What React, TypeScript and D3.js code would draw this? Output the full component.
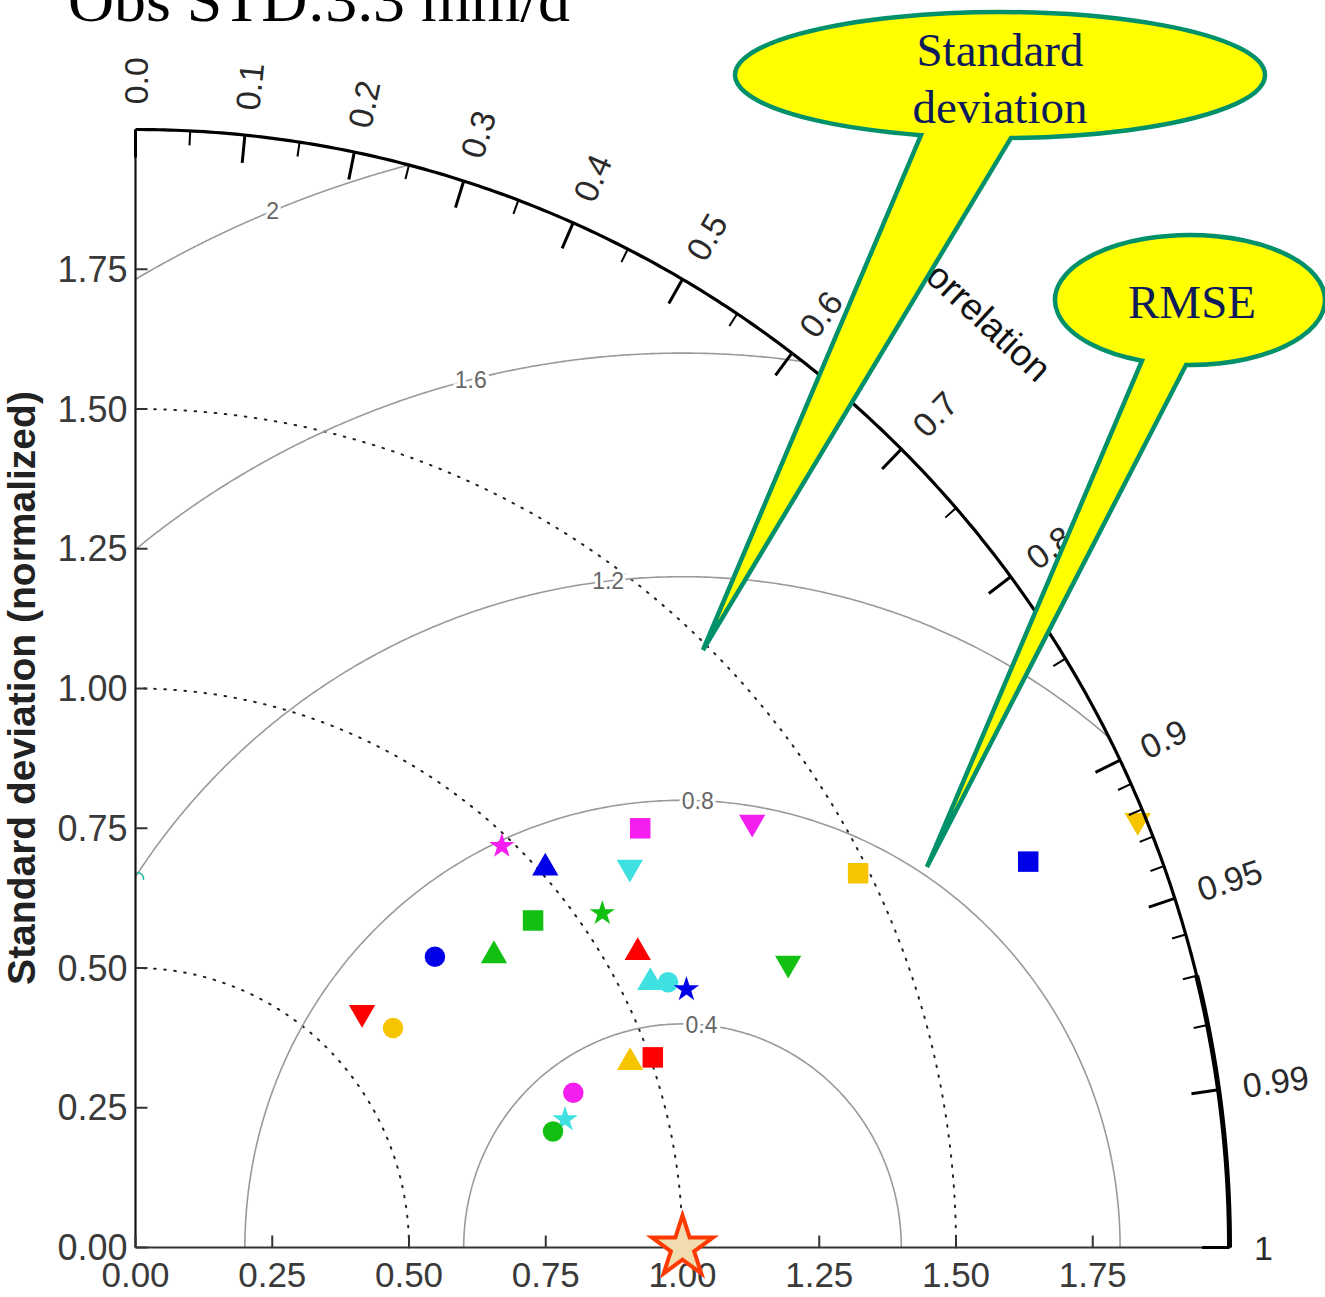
import React from "react";
import * as d3 from "d3";

const W = 1325;
const H = 1297;

const titleText = "Obs STD:3.3 mm/d";
const yAxisTitle = "Standard deviation (normalized)";
const corrTitle = "Correlation";

const stdTicks = [0, 0.25, 0.5, 0.75, 1.0, 1.25, 1.5, 1.75];
const stdTickLabels = ["0.00", "0.25", "0.50", "0.75", "1.00", "1.25", "1.50", "1.75"];

const corrMajor = [0, 0.1, 0.2, 0.3, 0.4, 0.5, 0.6, 0.7, 0.8, 0.9, 0.95, 0.99, 1];
const corrMajorLabels = ["0.0", "0.1", "0.2", "0.3", "0.4", "0.5", "0.6", "0.7", "0.8", "0.9", "0.95", "0.99", "1"];
const corrMinor = [0.05, 0.15, 0.25, 0.35, 0.45, 0.55, 0.65, 0.75, 0.85, 0.91, 0.92, 0.93, 0.94, 0.96, 0.97, 0.98];

const rmsLevels = [0.4, 0.8, 1.2, 1.6, 2.0];
const rmsLabels = ["0.4", "0.8", "1.2", "1.6", "2"];
const rmsLabelAngles = [85, 88, 96.5, 104, 112];

const stdArcs = [0.5, 1.0, 1.5];
const maxStd = 2;
const refStd = 1;

// models: colour, marker, normalized std, correlation
const markerColor = ["magenta", "blue", "magenta", "cyan", "magenta", "yellow", "blue", "yellow", "green", "green", "blue", "green", "red", "green", "cyan", "cyan", "blue", "red", "yellow", "yellow", "red", "magenta", "cyan", "green"];
const markerShape = ["star", "triangle", "square", "triangleDown", "triangleDown", "square", "square", "triangleDown", "square", "star", "circle", "triangle", "triangle", "triangleDown", "triangle", "circle", "star", "triangleDown", "circle", "triangle", "square", "circle", "star", "circle"];
const stdNorm = [0.982, 1.011, 1.189, 1.131, 1.360, 1.481, 1.772, 1.985, 0.933, 1.042, 0.755, 0.838, 1.059, 1.297, 1.054, 1.083, 1.108, 0.590, 0.613, 0.963, 1.005, 0.847, 0.818, 0.791];
const corrValues = [0.682, 0.741, 0.776, 0.799, 0.829, 0.892, 0.921, 0.923, 0.779, 0.819, 0.725, 0.782, 0.867, 0.920, 0.893, 0.899, 0.909, 0.702, 0.768, 0.939, 0.941, 0.945, 0.960, 0.965];

const palette: Record<string, string> = {
  red: "#ff0000",
  yellow: "#f7c400",
  green: "#12c012",
  cyan: "#3ee0e0",
  blue: "#0000e8",
  magenta: "#f41ef0",
};

const symbolSize: Record<string, number> = {
  star: 200,
  triangle: 300,
  triangleDown: 300,
  square: 420,
  circle: 330,
};

const x = d3.scaleLinear().domain([0, maxStd]).range([135.5, 135.5 + 1094]);
const y = d3.scaleLinear().domain([0, maxStd]).range([1247.5, 1247.5 - 1118]);

const P = (r: number, t: number): [number, number] => [x(r * Math.cos(t)), y(r * Math.sin(t))];
const line = d3.line<[number, number]>();

function arcPts(cx: number, r: number, t0: number, t1: number, n = 300): [number, number][] {
  return d3.range(n + 1).map((i) => {
    const t = t0 + ((t1 - t0) * i) / n;
    return [x(cx + r * Math.cos(t)), y(r * Math.sin(t))] as [number, number];
  });
}

const labelFont = "'Liberation Sans', Arial, Helvetica, sans-serif";
const serifFont = "'Liberation Serif', 'Times New Roman', Times, serif";

function symbolPath(shape: string) {
  const size = symbolSize[shape];
  if (shape === "star") return d3.symbol().type(d3.symbolStar).size(size)()!;
  if (shape === "square") return d3.symbol().type(d3.symbolSquare).size(size)()!;
  if (shape === "circle") return d3.symbol().type(d3.symbolCircle).size(size)()!;
  return d3.symbol().type(d3.symbolTriangle).size(size)()!;
}

// callout geometry (annotation layout)
function calloutPath(cx: number, cy: number, rx: number, ry: number, bl: number, br: number, tip: [number, number]) {
  const yb = (bx: number) => cy + ry * Math.sqrt(Math.max(0, 1 - ((bx - cx) / rx) ** 2));
  return `M${bl},${yb(bl)} A${rx},${ry} 0 1 1 ${br},${yb(br)} L${tip[0]},${tip[1]} Z`;
}

export default function App() {
  const outer = line(arcPts(0, maxStd, 0, Math.PI / 2));
  const outerLow = line(arcPts(0, maxStd, 0, Math.acos(0.97)));

  const rmsPaths = rmsLevels.map((R) => {
    let tMin = 0;
    let tMax = Math.PI;
    const xi = (5 - R * R) / 2; // intersection with outer circle
    if (xi <= maxStd) {
      const yi = Math.sqrt(4 - xi * xi);
      tMin = Math.atan2(yi, xi - refStd);
    }
    if (R > refStd) tMax = Math.acos(-refStd / R);
    return line(arcPts(refStd, R, tMin, tMax));
  });

  const stdArcPaths = stdArcs.map((r) => line(arcPts(0, r, 0, Math.PI / 2)));

  return (
    <div style={{ position: "absolute", left: 0, top: 0 }}>
      <svg width={W} height={H} viewBox={`0 0 ${W} ${H}`} style={{ display: "block", background: "#fff" }}>
        <rect x={0} y={0} width={W} height={H} fill="#fff" />
        {/* title */}
        <text x={68} y={21} fontFamily={serifFont} fontSize={61} fill="#000" textLength={502} lengthAdjust="spacingAndGlyphs">
          {titleText}
        </text>

        {/* std dotted arcs */}
        {stdArcPaths.map((d, i) => (
          <path key={"sa" + i} d={d!} fill="none" stroke="#222" strokeWidth={2} strokeDasharray="1.6 8.5" strokeLinecap="round" />
        ))}

        {/* RMS arcs */}
        {rmsPaths.map((d, i) => (
          <path key={"rm" + i} d={d!} fill="none" stroke="#9a9a9a" strokeWidth={1.6} />
        ))}
        {rmsLevels.map((R, i) => {
          const t = (rmsLabelAngles[i] * Math.PI) / 180;
          const px = x(refStd + R * Math.cos(t));
          const py = y(R * Math.sin(t));
          return (
            <text key={"rl" + i} x={px} y={py} textAnchor="middle" dominantBaseline="central" fontFamily={labelFont} fontSize={23} fill="#666" stroke="#fff" strokeWidth={6} paintOrder="stroke">
              {rmsLabels[i]}
            </text>
          );
        })}

        {/* tiny teal mark on axis */}
        <path d={`M${x(0) + 1},${y(0.663) - 4} A6,6 0 0 1 ${x(0) + 8},${y(0.663) + 3}`} fill="none" stroke="#19b89a" strokeWidth={1.5} />

        {/* axes */}
        <line x1={x(0)} y1={y(0)} x2={x(maxStd)} y2={y(0)} stroke="#333" strokeWidth={2.2} />
        <line x1={x(0)} y1={y(0)} x2={x(0)} y2={y(maxStd)} stroke="#111" strokeWidth={2.2} />
        {stdTicks.map((v, i) => (
          <g key={"st" + i}>
            <line x1={x(v)} y1={y(0)} x2={x(v)} y2={y(0) - 12} stroke="#333" strokeWidth={2} />
            <line x1={x(0)} y1={y(v)} x2={x(0) + 12} y2={y(v)} stroke="#333" strokeWidth={2} />
            <text x={x(v)} y={1287} textAnchor="middle" fontFamily={labelFont} fontSize={35} fill="#3a3a3a">
              {stdTickLabels[i]}
            </text>
            <text x={x(0) - 8} y={y(v)} textAnchor="end" dominantBaseline="central" fontFamily={labelFont} fontSize={36} fill="#3a3a3a">
              {stdTickLabels[i]}
            </text>
          </g>
        ))}
        <text transform={`translate(21,688) rotate(-90)`} textAnchor="middle" dominantBaseline="central" fontFamily={labelFont} fontWeight="bold" fontSize={39} fill="#222">
          {yAxisTitle}
        </text>

        {/* markers */}
        {stdNorm.map((s, i) => {
          const t = Math.acos(corrValues[i]);
          const [px, py] = P(s, t);
          const rot = markerShape[i] === "triangleDown" ? 180 : 0;
          return (
            <path key={"m" + i} d={symbolPath(markerShape[i])} transform={`translate(${px},${py}) rotate(${rot})`} fill={palette[markerColor[i]]} />
          );
        })}

        {/* reference point */}
        <path d={d3.symbol().type(d3.symbolStar).size(1150)()!} transform={`translate(${x(refStd)},${y(0)})`} fill="#f0dcae" stroke="#ff3a00" strokeWidth={4} strokeLinejoin="miter" />

        {/* outer correlation arc */}
        <path d={outer!} fill="none" stroke="#000" strokeWidth={3.2} />
        <path d={outerLow!} fill="none" stroke="#000" strokeWidth={5} />
        {corrMajor.map((c, i) => {
          const t = Math.acos(c);
          const [x1, y1] = P(maxStd, t);
          const [x2, y2] = P(maxStd - 0.05, t);
          const [lx, ly] = P(2.045, t);
          const deg = (-t * 180) / Math.PI;
          return (
            <g key={"cM" + i}>
              <line x1={x1} y1={y1} x2={x2} y2={y2} stroke="#000" strokeWidth={3} />
              <text transform={`translate(${lx},${ly}) rotate(${deg})`} dominantBaseline="central" fontFamily={labelFont} fontSize={34} fill="#2a2a2a">
                {corrMajorLabels[i]}
              </text>
            </g>
          );
        })}
        {corrMinor.map((c, i) => {
          const t = Math.acos(c);
          const [x1, y1] = P(maxStd, t);
          const [x2, y2] = P(maxStd - 0.026, t);
          return <line key={"cm" + i} x1={x1} y1={y1} x2={x2} y2={y2} stroke="#000" strokeWidth={2} />;
        })}
        <text transform={`translate(979,313) rotate(43)`} textAnchor="middle" dominantBaseline="central" fontFamily={labelFont} fontSize={37} fill="#111">
          {corrTitle}
        </text>

        {/* callouts */}
        <path d={calloutPath(1000, 75, 265, 63, 921, 1011, [703, 650])} fill="#ffff00" stroke="#00906a" strokeWidth={4.5} strokeLinejoin="miter" />
        <text x={1000} y={66} textAnchor="middle" fontFamily={serifFont} fontSize={47} fill="#0d1a5c">Standard</text>
        <text x={1000} y={123} textAnchor="middle" fontFamily={serifFont} fontSize={47} fill="#0d1a5c">deviation</text>

        <path d={calloutPath(1190, 300, 135, 65, 1142, 1186, [927, 867])} fill="#ffff00" stroke="#00906a" strokeWidth={4.5} strokeLinejoin="miter" />
        <text x={1192} y={318} textAnchor="middle" fontFamily={serifFont} fontSize={47} fill="#0d1a5c">RMSE</text>
      </svg>
    </div>
  );
}
